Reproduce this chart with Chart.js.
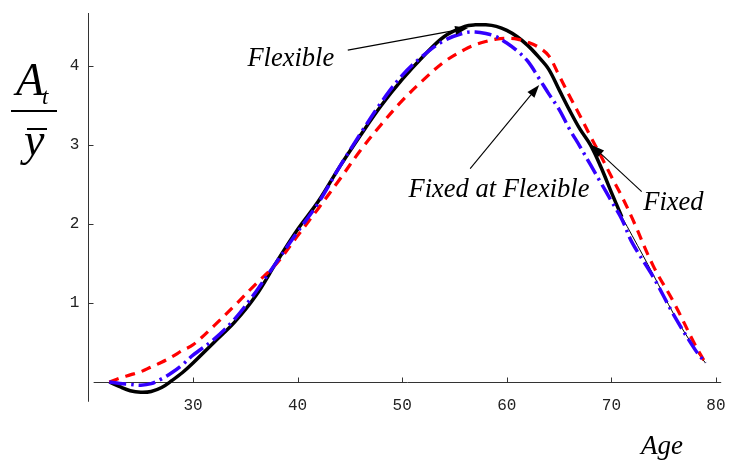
<!DOCTYPE html>
<html><head><meta charset="utf-8">
<script src="https://cdn.jsdelivr.net/npm/chart.js@4"></script>
<style>html,body{margin:0;padding:0;background:#fff}canvas{display:block}</style>
</head><body>
<canvas id="c" width="732" height="464"></canvas>
<script>
// ---- data ----
const ages = [22,23,24,25,26,27,28,29,30,32,34,36,38,40,42,44,46,48,50,52,54,56,57,58,59,60,61,62,63,64,65,66,67,68,69,70,71,72,74,76,78,79];
const flexible = [0,-0.06,-0.11,-0.13,-0.12,-0.07,0.02,0.12,0.24,
  0.50,0.76,1.09,1.52,1.93,2.29,2.72,3.12,3.50,3.83,4.12,4.37,
  4.50,4.52,4.52,4.50,4.45,4.37,4.26,4.12,3.96,3.70,3.44,3.20,3.00,2.72,2.40,2.09,
  null,null,null,null,null];
const flexibleTail = [null,null,null,null,null,null,null,null,null,
  null,null,null,null,null,null,null,null,null,null,null,null,
  null,null,null,null,null,null,null,null,null,null,null,null,null,null,null,2.09,
  1.85,1.36,0.85,0.42,0.24];
const fixedAtFlexible = [0,-0.02,-0.03,-0.04,-0.02,0.04,0.12,0.22,0.34,
  0.54,0.80,1.14,1.52,1.90,2.27,2.72,3.14,3.54,3.88,4.13,4.32,
  4.42,4.43,4.41,4.37,4.29,4.19,4.06,3.86,3.65,3.45,3.20,2.98,2.75,2.52,2.29,2.06,
  1.76,1.33,0.84,0.41,0.24];
const fixed = [0,0.05,0.09,0.13,0.19,0.25,0.32,0.40,0.47,
  0.71,0.97,1.24,1.50,1.85,2.20,2.56,2.93,3.26,3.56,3.82,4.05,
  4.21,4.27,4.31,4.34,4.35,4.34,4.30,4.24,4.13,3.88,3.62,3.37,3.11,2.86,2.60,2.35,
  2.07,1.47,1.00,0.47,0.24];
const xTicks = [30,40,50,60,70,80];
const yTicks = [1,2,3,4];
const seriesNames = ['Flexible','Fixed at Flexible','Fixed'];

function pts(vals){ return ages.map((a,i)=>vals[i]==null?null:{x:a,y:vals[i]}).filter(p=>p); }

// annotation anchors in data units (age, value)
const notes = [
  {text:seriesNames[0], at:[35.2,4.0], from:[44.8,4.20], to:[56.3,4.48]},
  {text:seriesNames[1], at:[50.6,2.34], from:[56.5,2.70], to:[63.1,3.76]},
  {text:seriesNames[2], at:[73.05,2.18], from:[72.9,2.41], to:[68.1,3.00]}
];

const SERIF_I = 'italic 26.5px "Liberation Serif", "DejaVu Serif", serif';

function arrow(ctx, x1,y1,x2,y2){
  const ang = Math.atan2(y2-y1, x2-x1), L=13, W=4.5;
  const bx = x2 - L*Math.cos(ang), by = y2 - L*Math.sin(ang);
  ctx.beginPath(); ctx.moveTo(x1,y1); ctx.lineTo(bx,by); ctx.stroke();
  ctx.beginPath();
  ctx.moveTo(x2,y2);
  ctx.lineTo(bx + W*Math.sin(ang), by - W*Math.cos(ang));
  ctx.lineTo(bx - W*Math.sin(ang), by + W*Math.cos(ang));
  ctx.closePath(); ctx.fill();
}

const axesPlugin = {
  id:'axesPlugin',
  beforeDatasetsDraw(chart){
    const {ctx, scales:{x,y}} = chart;
    ctx.save();
    ctx.strokeStyle = '#333'; ctx.lineWidth = 1;
    const y0 = Math.round(y.getPixelForValue(0))+0.5;
    const x0 = Math.round(x.getPixelForValue(20))+0.5;
    ctx.beginPath();
    ctx.moveTo(x.getPixelForValue(20.5), y0); ctx.lineTo(x.getPixelForValue(80.5), y0);
    ctx.moveTo(x0, y.getPixelForValue(4.67)); ctx.lineTo(x0, y.getPixelForValue(-0.25));
    xTicks.forEach(v=>{ const px=Math.round(x.getPixelForValue(v))+0.5; ctx.moveTo(px,y0); ctx.lineTo(px,y0-5); });
    yTicks.forEach(v=>{ const py=Math.round(y.getPixelForValue(v))+0.5; ctx.moveTo(x0,py); ctx.lineTo(x0+5,py); });
    ctx.stroke();
    ctx.restore();
  },
  afterDatasetsDraw(chart){
    const {ctx, scales:{x,y}} = chart;
    ctx.save();
    ctx.fillStyle = '#000'; ctx.strokeStyle = '#000'; ctx.lineWidth = 1.1;
    ctx.font = SERIF_I; ctx.textBaseline = 'alphabetic'; ctx.textAlign = 'left';
    notes.forEach(n=>{
      ctx.fillText(n.text, x.getPixelForValue(n.at[0]), y.getPixelForValue(n.at[1]));
      arrow(ctx, x.getPixelForValue(n.from[0]), y.getPixelForValue(n.from[1]),
                 x.getPixelForValue(n.to[0]), y.getPixelForValue(n.to[1]));
    });
    // x axis title
    ctx.font = 'italic 27px "Liberation Serif", serif';
    ctx.fillText('Age', 641, 454);
    // y axis title: A_t over y-bar
    ctx.font = 'italic 46px "Liberation Serif", serif';
    ctx.fillText('A', 16, 95);
    ctx.font = 'italic 23px "Liberation Serif", serif';
    ctx.fillText('t', 42, 104);
    ctx.fillRect(11, 110, 46, 2);
    ctx.font = 'italic 46px "Liberation Serif", serif';
    ctx.fillText('y', 24, 155);
    ctx.fillRect(27, 128, 20, 2);
    ctx.restore();
  }
};

const common = {pointRadius:0, pointHoverRadius:0, fill:false, tension:0.35, clip:false, borderCapStyle:'butt', borderJoinStyle:'round'};

new Chart(document.getElementById('c'), {
  type:'line',
  data:{datasets:[
    {...common, label:seriesNames[1], data:pts(fixedAtFlexible), borderColor:'#3300ff', borderWidth:3.5, borderDash:[17,5,2.5,5], order:0},
    {...common, label:seriesNames[2], data:pts(fixed), borderColor:'#ff0000', borderWidth:3.2, borderDash:[10,7], order:1},
    {...common, label:seriesNames[0], data:pts(flexible), borderColor:'#000000', borderWidth:3.5, order:2},
    {...common, label:seriesNames[0]+' (tail)', data:pts(flexibleTail), borderColor:'#000000', borderWidth:1, order:3}
  ]},
  options:{
    responsive:false, animation:false, devicePixelRatio:1,
    layout:{padding:{left:58.4, right:10.8, top:13, bottom:52}},
    plugins:{legend:{display:false}, tooltip:{enabled:false}},
    scales:{
      x:{type:'linear', min:20, max:80.5,
        afterFit(s){ s.height = 30; s.paddingLeft = 0; s.paddingRight = 0; },
        afterBuildTicks(s){ s.ticks = xTicks.map(v=>({value:v})); },
        grid:{display:false, drawTicks:false}, border:{display:false},
        ticks:{padding:14, maxRotation:0, autoSkip:false, color:'#222', font:{family:'"Liberation Mono", monospace', size:16}}},
      y:{type:'linear', min:0, max:4.67,
        afterFit(s){ s.width = 30; s.paddingTop = 0; s.paddingBottom = 0; },
        afterBuildTicks(s){ s.ticks = yTicks.map(v=>({value:v})); },
        grid:{display:false, drawTicks:false}, border:{display:false},
        ticks:{padding:9, color:'#222', font:{family:'"Liberation Mono", monospace', size:16}}}
    }
  },
  plugins:[axesPlugin]
});
</script>
</body></html>
